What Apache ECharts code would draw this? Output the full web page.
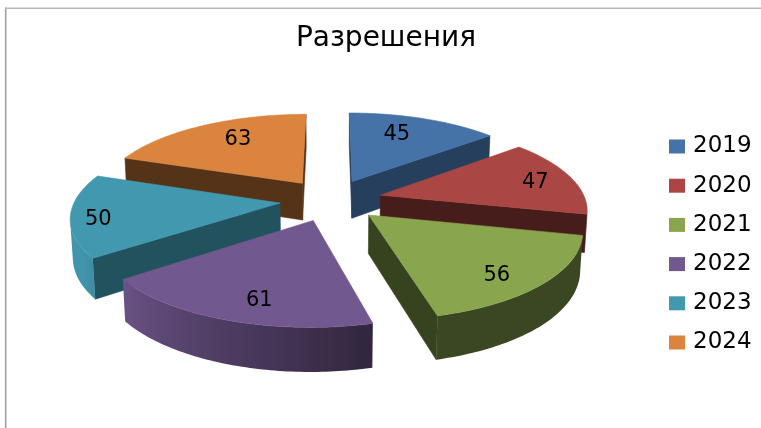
<!DOCTYPE html>
<html>
<head>
<meta charset="utf-8">
<style>
    html, body { margin: 0; padding: 0; background: #fff; }
    #chart { width: 761px; height: 428px; }
</style>
<script src="https://cdn.jsdelivr.net/npm/echarts@6/dist/echarts.min.js"></script>
</head>
<body>
<div id="chart"></div>
<script>
    const years = ['2019', '2020', '2021', '2022', '2023', '2024'];
    const values = [45, 47, 56, 61, 50, 63];
    const colors = ['#4572A7', '#AA4643', '#89A54E', '#71588F', '#4198AF', '#DB843D'];
    // how dark the cut face of each slice is
    const cutShade = [0.55, 0.42, 0.40, 0.5, 0.54, 0.39];
    // nudges of the value labels, the original has them placed by hand
    const labelNudge = [[-13, 3], [6, 2], [-4, 8], [11, 5], [-19, 7], [15, 2]];

    const FONT = '"DejaVu Sans"';
    const total = values.reduce((a, b) => a + b, 0);

    // projection of the pie plane
    const cx = 331, cy = 200, A = 205, B = 84, P = 0.15;
    const EXPLODE = 0.25, DEPTH = 38, Q = 0.01, LABEL_R = 0.78;

    function project(u, v, bottom) {
        const w = 1 - P * v + (bottom ? Q : 0);
        return [cx + A * u / w, cy + (B * v + (bottom ? DEPTH : 0)) / w];
    }

    function shadeColor(hex, k) {
        const c = [1, 3, 5].map(i => Math.round(parseInt(hex.substr(i, 2), 16) * k));
        return 'rgb(' + c.join(',') + ')';
    }

    function wallShade(deg) {
        const t = Math.max(0, Math.min(1, (deg - 165) / 75));
        return 0.43 + 0.55 * t;
    }

    function area(pts) {
        let s = 0;
        pts.forEach((p, i) => {
            const q = pts[(i + 1) % pts.length];
            s += p[0] * q[1] - q[0] * p[1];
        });
        return s / 2;
    }

    function poly(points, fill, stroke) {
        return {
            type: 'polygon',
            shape: { points: points },
            style: { fill: fill, stroke: stroke || fill, lineWidth: 0.6 }
        };
    }

    function renderSlice(index, startDeg, api) {
        const value = api.value(0);
        const endDeg = startDeg + value / total * 360;
        const midRad = (startDeg + endDeg) / 2 * Math.PI / 180;
        const u0 = EXPLODE * Math.sin(midRad);
        const v0 = -EXPLODE * Math.cos(midRad);
        const rim = (deg, r) => {
            const a = deg * Math.PI / 180;
            return [u0 + r * Math.sin(a), v0 - r * Math.cos(a)];
        };
        const color = colors[index];
        const children = [];

        const apexTop = project(u0, v0, false);
        const apexBot = project(u0, v0, true);

        // cut faces, only when they look at us
        [[startDeg, -1], [endDeg, 1]].forEach(function (edge) {
            const p = rim(edge[0], 1);
            const quad = [apexTop, project(p[0], p[1], false), project(p[0], p[1], true), apexBot];
            if (area(quad) * edge[1] > 0) {
                children.push(poly(quad, shadeColor(color, cutShade[index])));
            }
        });

        // outer wall: the part that faces us, shaded along x
        const steps = Math.ceil(endDeg - startDeg);
        const top = [apexTop];
        const wallTop = [], wallBot = [], wallDeg = [];
        for (let i = 0; i <= steps; i++) {
            const d = startDeg + (endDeg - startDeg) * i / steps;
            const p = rim(d, 1);
            const pt = project(p[0], p[1], false);
            top.push(pt);
            if (i < steps) {
                const d2 = startDeg + (endDeg - startDeg) * (i + 1) / steps;
                const p2 = rim(d2, 1);
                const quad = [pt, project(p2[0], p2[1], false), project(p2[0], p2[1], true), project(p[0], p[1], true)];
                if (area(quad) < 0) {
                    if (!wallTop.length) {
                        wallTop.push(pt);
                        wallBot.push(project(p[0], p[1], true));
                        wallDeg.push(d);
                    }
                    wallTop.push(project(p2[0], p2[1], false));
                    wallBot.push(project(p2[0], p2[1], true));
                    wallDeg.push(d2);
                }
            }
        }
        if (wallTop.length > 1) {
            const x0 = wallTop[0][0];
            const x1 = wallTop[wallTop.length - 1][0];
            const stops = wallTop.map((p, i) => ({
                offset: Math.max(0, Math.min(1, (p[0] - x0) / (x1 - x0))),
                color: shadeColor(color, wallShade(wallDeg[i]))
            }));
            const grad = new echarts.graphic.LinearGradient(x0, 0, x1, 0, stops, true);
            children.push(poly(wallTop.concat(wallBot.slice().reverse()), grad, 'none'));
        }
        children.push(poly(top, color));

        const lp = rim((startDeg + endDeg) / 2, LABEL_R);
        const lxy = project(lp[0], lp[1], false);
        children.push({
            type: 'text',
            x: lxy[0] + labelNudge[index][0],
            y: lxy[1] + labelNudge[index][1],
            style: {
                text: String(value),
                font: '21px ' + FONT,
                fill: '#000',
                align: 'center',
                verticalAlign: 'middle'
            }
        });
        return { type: 'group', children: children };
    }

    // back slices first, so the nearer ones cover them
    let running = 0;
    const depthOf = values.map(function (val) {
        const mid = (running + val / 2) / total * 2 * Math.PI;
        running += val;
        return -Math.cos(mid);
    });
    const depthRank = depthOf.map(d => depthOf.filter(o => o < d).length);

    let startAcc = 0;
    const series = years.map(function (year, i) {
        const startDeg = startAcc / total * 360;
        startAcc += values[i];
        return {
            name: year,
            type: 'custom',
            coordinateSystem: 'none',
            z: 2 + depthRank[i],
            silent: true,
            animation: false,
            itemStyle: { color: colors[i] },
            data: [[values[i]]],
            renderItem: function (params, api) {
                return renderSlice(i, startDeg, api);
            }
        };
    });

    const chart = echarts.init(document.getElementById('chart'));
    chart.setOption({
        backgroundColor: '#fff',
        animation: false,
        title: {
            text: 'Разрешения',
            left: 381,
            top: 20,
            textAlign: 'center',
            textStyle: { fontFamily: FONT, fontSize: 28, fontWeight: 'normal', color: '#000' }
        },
        legend: {
            data: years,
            orient: 'vertical',
            left: 664,
            top: 130,
            itemWidth: 16,
            itemHeight: 14,
            itemGap: 16.2,
            icon: 'rect',
            selectedMode: false,
            textStyle: { fontFamily: FONT, fontSize: 23, color: '#000', padding: [6, 0, 0, 3] }
        },
        graphic: [
            { type: 'line', silent: true, shape: { x1: 5.7, y1: 7.5, x2: 5.7, y2: 428 }, style: { stroke: '#a0a0a0', lineWidth: 1.6 } },
            { type: 'line', silent: true, shape: { x1: 5, y1: 8.2, x2: 761, y2: 8.2 }, style: { stroke: '#b8b8b8', lineWidth: 1.6 } }
        ],
        series: series
    });
</script>
</body>
</html>
